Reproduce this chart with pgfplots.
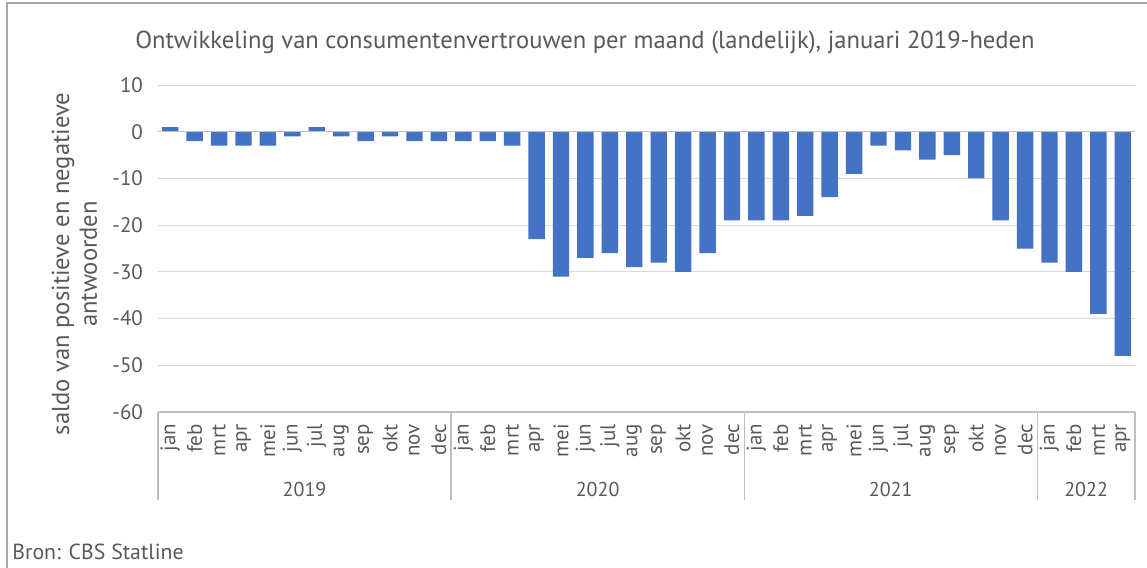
\documentclass[border=0pt]{standalone}
\usepackage{fontspec}
\setmainfont{PT Sans}
\usepackage{pgfplots}
\pgfplotsset{compat=1.18}
\definecolor{barblue}{HTML}{4472C4}
\definecolor{gridgray}{HTML}{D9D9D9}
\definecolor{axgray}{HTML}{BFBFBF}
\definecolor{txtgray}{HTML}{595959}
\definecolor{framegray}{HTML}{A6A6A6}

\begin{document}
\begin{tikzpicture}
\useasboundingbox (0,0) rectangle (573.5pt,284pt);
\draw[framegray, line width=1pt] (3.5pt,0) -- (3.5pt,282.5pt) -- (573.5pt,282.5pt);

\begin{axis}[
  at={(79pt,78pt)}, anchor=south west,
  width=488.5pt, height=163.5pt, scale only axis,
  ymin=-60, ymax=10, xmin=-0.5, xmax=39.5,
  ytick={-60,-50,...,10},
  yticklabels={-60,-50,-40,-30,-20,-10,0,10},
  xtick={0,...,39},
  xticklabels={jan,feb,mrt,apr,mei,jun,jul,aug,sep,okt,nov,dec,
               jan,feb,mrt,apr,mei,jun,jul,aug,sep,okt,nov,dec,
               jan,feb,mrt,apr,mei,jun,jul,aug,sep,okt,nov,dec,
               jan,feb,mrt,apr},
  xticklabel style={rotate=90, anchor=east, font=\fontsize{10.5}{11}\selectfont, text=txtgray},
  xticklabel shift=2.5pt,
  yticklabel style={font=\fontsize{10.5}{12}\selectfont, text=txtgray, xshift=-4pt},
  axis line style={draw=none},
  tick style={draw=none},
  ymajorgrids, grid style={gridgray, line width=0.5pt},
  clip=false,
]
\addplot[ybar, bar width=8.2pt, fill=barblue, draw=none] coordinates {
  (0,1) (1,-2) (2,-3) (3,-3) (4,-3) (5,-1) (6,1) (7,-1) (8,-2) (9,-1) (10,-2) (11,-2)
  (12,-2) (13,-2) (14,-3) (15,-23) (16,-31) (17,-27) (18,-26) (19,-29) (20,-28) (21,-30) (22,-26) (23,-19)
  (24,-19) (25,-19) (26,-18) (27,-14) (28,-9) (29,-3) (30,-4) (31,-6) (32,-5) (33,-10) (34,-19) (35,-25)
  (36,-28) (37,-30) (38,-39) (39,-48)
};
\draw[axgray, line width=0.6pt] (axis cs:-0.5,0) -- (axis cs:39.5,0);
\draw[axgray, line width=0.6pt] (axis cs:-0.5,-60) -- (axis cs:39.5,-60);
\pgfplotsinvokeforeach{-0.5,11.5,23.5,35.5,39.5}{
  \draw[axgray, line width=0.6pt] (axis cs:#1,-60) -- ([yshift=-44pt]axis cs:#1,-60);
}
\node[text=txtgray, font=\fontsize{10}{11}\selectfont] at ([yshift=-38.5pt]axis cs:5.5,-60) {2019};
\node[text=txtgray, font=\fontsize{10}{11}\selectfont] at ([yshift=-38.5pt]axis cs:17.5,-60) {2020};
\node[text=txtgray, font=\fontsize{10}{11}\selectfont] at ([yshift=-38.5pt]axis cs:29.5,-60) {2021};
\node[text=txtgray, font=\fontsize{10}{11}\selectfont] at ([yshift=-38.5pt]axis cs:37.5,-60) {2022};
\end{axis}

\node[text=txtgray, font=\fontsize{12.3}{14}\selectfont] at (292.5pt,263pt)
  {Ontwikkeling van consumentenvertrouwen per maand (landelijk), januari 2019-heden};
\node[text=txtgray, rotate=90, anchor=base, font=\fontsize{12.3}{14}\selectfont] at (34.5pt,152pt)
  {saldo van positieve en negatieve};
\node[text=txtgray, rotate=90, anchor=base, font=\fontsize{12.3}{14}\selectfont] at (48.5pt,152pt)
  {antwoorden};
\node[text=txtgray, anchor=base west, font=\fontsize{10.9}{12}\selectfont, inner sep=0pt] at (6pt,4pt)
  {Bron: CBS Statline};
\end{tikzpicture}
\end{document}
